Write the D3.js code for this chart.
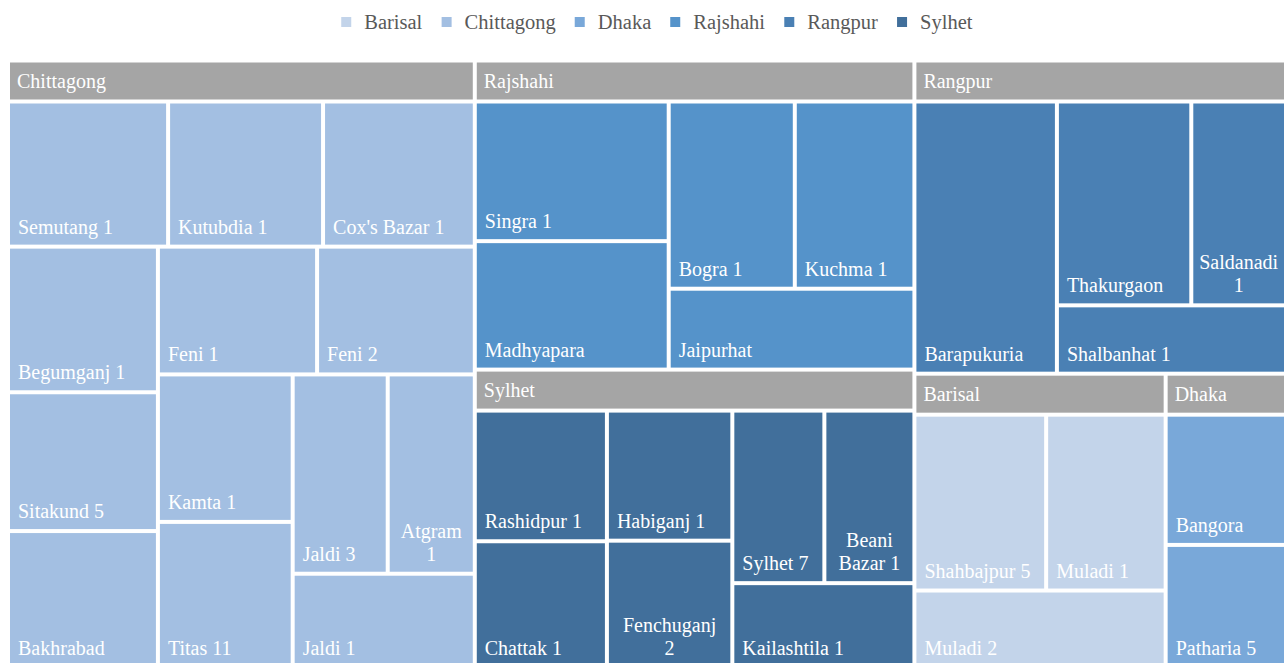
<!DOCTYPE html>
<html lang="en">
<head>
<meta charset="UTF-8">
<title>Gas fields by region</title>
<script src="https://d3js.org/d3.v7.min.js"></script>
<style>
    body {
        margin: 0;
        background: #fff;
    }
</style>
</head>
<body>
<div id="chart"></div>

<script>
    // regions (legend order) and their colours
    var regions = ["Barisal", "Chittagong", "Dhaka", "Rajshahi", "Rangpur", "Sylhet"];
    var regionColors = ["#c3d4ea", "#a3bfe2", "#79a8d9", "#5593ca", "#4a80b4", "#416f9b"];

    // one entry per field: name, region, value
    var fieldNames = [
        "Semutang 1", "Kutubdia 1", "Cox's Bazar 1", "Begumganj 1", "Sitakund 5", "Bakhrabad",
        "Feni 1", "Feni 2", "Kamta 1", "Titas 11", "Jaldi 3", "Atgram 1", "Jaldi 1",
        "Singra 1", "Madhyapara", "Bogra 1", "Kuchma 1", "Jaipurhat",
        "Rashidpur 1", "Chattak 1", "Habiganj 1", "Fenchuganj 2", "Sylhet 7", "Beani Bazar 1", "Kailashtila 1",
        "Barapukuria", "Thakurgaon", "Saldanadi 1", "Shalbanhat 1",
        "Shahbajpur 5", "Muladi 1", "Muladi 2",
        "Bangora", "Patharia 5"
    ];
    var fieldRegions = [
        "Chittagong", "Chittagong", "Chittagong", "Chittagong", "Chittagong", "Chittagong",
        "Chittagong", "Chittagong", "Chittagong", "Chittagong", "Chittagong", "Chittagong", "Chittagong",
        "Rajshahi", "Rajshahi", "Rajshahi", "Rajshahi", "Rajshahi",
        "Sylhet", "Sylhet", "Sylhet", "Sylhet", "Sylhet", "Sylhet", "Sylhet",
        "Rangpur", "Rangpur", "Rangpur", "Rangpur",
        "Barisal", "Barisal", "Barisal",
        "Dhaka", "Dhaka"
    ];
    var fieldValues = [
        24.9, 24.1, 23.6, 23.4, 22.3, 22.0,
        21.8, 21.6, 21.3, 21.1, 20.3, 18.6, 18.4,
        31.2, 28.7, 27.2, 25.8, 22.9,
        20.0, 19.4, 18.9, 18.5, 18.4, 18.0, 17.9,
        44.6, 31.5, 22.2, 18.0,
        26.9, 24.4, 22.6,
        18.2, 17.2
    ];

    var width = 1284,
        height = 663;
    var left = 10, top_ = 62.5, right = 1284, bottom = 666;
    var headerHeight = 37;
    var headerSpace = 41;

    var svg = d3.select("#chart")
        .append("svg")
        .attr("width", width)
        .attr("height", height)
        .style("font-family", "Liberation Serif")
        .style("font-size", "20px");

    var color = d3.scaleOrdinal()
        .domain(regions)
        .range(regionColors);

    // nested data for d3.hierarchy
    var tree = {
        name: "root",
        children: regions.map(function(r) {
            return {
                name: r,
                children: fieldNames
                    .map(function(n, i) { return {name: n, region: fieldRegions[i], value: fieldValues[i]}; })
                    .filter(function(f) { return f.region == r; })
            };
        })
    };

    // squarify where the target aspect favours tall tiles, whichever way the row runs
    var tallBias = 1.175;
    function tallSquarify(parent, x0, y0, x1, y1) {
        var nodes = parent.children,
            n = nodes.length,
            i0 = 0, i1 = 0,
            value = parent.value;

        while (i0 < n) {
            var dx = x1 - x0, dy = y1 - y0;
            var ratio = dx < dy ? tallBias : 1 / tallBias;
            var sum = nodes[i1++].value, minV = sum, maxV = sum;
            var alpha = Math.max(dy / dx, dx / dy) / (value * ratio);
            var beta = sum * sum * alpha;
            var best = Math.max(maxV / beta, beta / minV);

            for (; i1 < n; ++i1) {
                var v = nodes[i1].value;
                sum += v;
                if (v < minV) minV = v;
                if (v > maxV) maxV = v;
                beta = sum * sum * alpha;
                var r = Math.max(maxV / beta, beta / minV);
                if (r > best) { sum -= v; break; }
                best = r;
            }

            var row = {value: sum, children: nodes.slice(i0, i1)};
            if (dx < dy) d3.treemapDice(row, x0, y0, x1, value ? y0 += dy * sum / value : y1);
            else d3.treemapSlice(row, x0, y0, value ? x0 += dx * sum / value : x1, y1);
            value -= sum;
            i0 = i1;
        }
    }

    var root = d3.hierarchy(tree)
        .sum(function(d) { return d.value; })
        .sort(function(a, b) { return b.value - a.value; });

    d3.treemap()
        .tile(tallSquarify)
        .size([right - left, bottom - top_])
        .paddingInner(4)
        .paddingTop(function(d) { return d.depth == 1 ? headerSpace : 0; })
        (root);

    var plot = svg.append("g")
        .attr("transform", "translate(" + left + "," + top_ + ")");

    // region banners
    var groups = plot.selectAll("g.region")
        .data(root.children)
        .enter().append("g")
        .attr("class", "region");

    groups.append("rect")
        .attr("x", function(d) { return d.x0; })
        .attr("y", function(d) { return d.y0; })
        .attr("width", function(d) { return d.x1 - d.x0; })
        .attr("height", headerHeight)
        .attr("fill", "#a5a5a5");

    groups.append("text")
        .attr("x", function(d) { return d.x0 + 7; })
        .attr("y", function(d) { return d.y0 + headerHeight / 2 + 7; })
        .attr("fill", "#fff")
        .text(function(d) { return d.data.name; });

    // field tiles
    var leaves = plot.selectAll("g.field")
        .data(root.leaves())
        .enter().append("g")
        .attr("class", "field");

    leaves.append("rect")
        .attr("x", function(d) { return d.x0; })
        .attr("y", function(d) { return d.y0; })
        .attr("width", function(d) { return d.x1 - d.x0; })
        .attr("height", function(d) { return d.y1 - d.y0; })
        .attr("fill", function(d) { return color(d.parent.data.name); });

    leaves.each(function(d) {
        var g = d3.select(this);
        var avail = d.x1 - d.x0 - 16;
        var label = g.append("text")
            .attr("fill", "#fff")
            .attr("x", d.x0 + 8)
            .attr("y", d.y1 - 11)
            .text(d.data.name);

        if (label.node().getComputedTextLength() <= avail) return;

        // too wide: wrap the words and centre the lines
        var words = d.data.name.split(" ");
        var lines = [], line = [];
        label.text(null);
        var probe = label.append("tspan");
        words.forEach(function(w) {
            line.push(w);
            probe.text(line.join(" "));
            if (probe.node().getComputedTextLength() > avail && line.length > 1) {
                line.pop();
                lines.push(line.join(" "));
                line = [w];
            }
        });
        lines.push(line.join(" "));
        probe.remove();

        var cx = (d.x0 + d.x1) / 2;
        label.attr("text-anchor", "middle");
        lines.forEach(function(t, i) {
            label.append("tspan")
                .attr("x", cx)
                .attr("y", d.y1 - 11 - (lines.length - 1 - i) * 23)
                .text(t);
        });
    });

    // legend across the top
    var legend = svg.append("g")
        .attr("class", "legend")
        .style("font-size", "20.5px");

    var items = legend.selectAll("g.item")
        .data(regions)
        .enter().append("g")
        .attr("class", "item");

    items.append("rect")
        .attr("y", 17)
        .attr("width", 10)
        .attr("height", 10)
        .attr("fill", function(d) { return color(d); });

    items.append("text")
        .attr("x", 23)
        .attr("y", 29)
        .attr("fill", "#595959")
        .text(function(d) { return d; });

    var xPos = 0;
    items.each(function() {
        var w = this.getBBox().width;
        d3.select(this).attr("transform", "translate(" + xPos + ",0)");
        xPos += w + 19;
    });
    var legendWidth = xPos - 19;
    legend.attr("transform", "translate(" + (657 - legendWidth / 2) + ",0)");
</script>
</body>
</html>
